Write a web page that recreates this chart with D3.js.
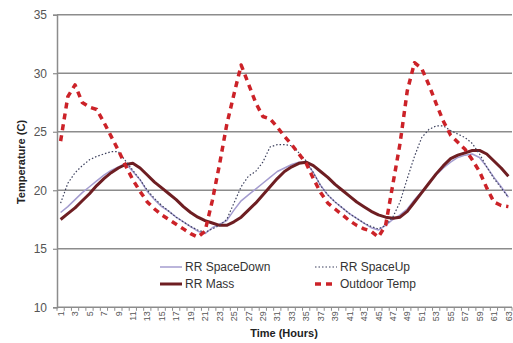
<!DOCTYPE html>
<html>
<head>
<meta charset="utf-8">
<script src="https://cdn.jsdelivr.net/npm/d3@7"></script>
<style>
  html, body { margin: 0; padding: 0; background: #fff; }
  svg { display: block; font-family: "Liberation Sans", Arial, sans-serif; }
</style>
</head>
<body>
<svg id="chart" width="513" height="343"></svg>
<script>
// ---- data ----
const hours = d3.range(1, 64);
const yTicks = [10, 15, 20, 25, 30, 35];
const seriesNames = ["RR SpaceDown", "RR SpaceUp", "RR Mass", "Outdoor Temp"];

const spaceDown = [18.1, 18.6, 19.2, 19.8, 20.3, 20.8, 21.3, 21.7, 22.0, 22.3,
  21.6, 20.9, 19.9, 19.2, 18.6, 18.2, 17.7, 17.3, 16.9, 16.5,
  16.3, 16.8, 17.1, 17.4, 18.3, 19.1, 19.6, 20.1, 20.6, 21.1,
  21.6, 21.9, 22.2, 22.4, 22.4, 21.5, 20.4, 19.6, 19.0, 18.5,
  18.0, 17.6, 17.2, 16.8, 16.6, 17.0, 17.5, 17.9, 18.4, 19.2,
  19.9, 20.6, 21.3, 21.9, 22.4, 22.8, 23.0, 23.1, 22.8, 22.0,
  21.1, 20.3, 19.4];

const spaceUp = [18.9, 20.6, 21.5, 22.1, 22.6, 22.9, 23.1, 23.3, 23.3, 22.5,
  21.7, 20.9, 20.0, 19.3, 18.7, 18.2, 17.7, 17.3, 16.9, 16.6,
  16.4, 16.7, 17.0, 17.5, 18.9, 20.3, 21.2, 21.6, 22.4, 23.7,
  23.9, 23.9, 23.8, 23.2, 22.5, 21.5, 20.4, 19.6, 19.0, 18.5,
  18.0, 17.6, 17.2, 16.9, 16.7, 17.0, 17.7, 19.0, 21.0, 22.9,
  24.5, 25.2, 25.5, 25.5, 25.1, 24.8, 24.5, 24.0, 23.1, 22.0,
  21.0, 20.2, 19.4];

const mass = [17.5, 18.0, 18.5, 19.1, 19.7, 20.4, 21.0, 21.5, 21.9, 22.2,
  22.3, 21.9, 21.3, 20.7, 20.2, 19.7, 19.2, 18.6, 18.1, 17.7,
  17.4, 17.2, 17.0, 17.0, 17.3, 17.7, 18.3, 18.9, 19.6, 20.3,
  21.0, 21.6, 22.0, 22.3, 22.4, 22.1, 21.6, 21.1, 20.5, 20.0,
  19.5, 19.0, 18.6, 18.2, 17.9, 17.7, 17.6, 17.7, 18.2, 19.0,
  19.8, 20.6, 21.4, 22.1, 22.7, 23.0, 23.2, 23.4, 23.4, 23.1,
  22.5, 21.9, 21.2];

const outdoor = [24.2, 28.0, 29.0, 27.5, 27.1, 26.9, 25.8, 24.6, 23.4, 22.1,
  20.9, 19.9, 19.0, 18.4, 17.9, 17.5, 17.1, 16.7, 16.3, 16.0,
  16.5, 19.1, 22.2, 25.6, 28.2, 30.7, 29.1, 27.5, 26.3, 26.1,
  25.4, 24.6, 23.9, 23.1, 22.3, 21.0, 19.8, 18.9, 18.4, 17.9,
  17.4, 17.0, 16.7, 16.5, 16.0, 17.0, 20.5, 24.0, 28.5, 30.9,
  30.4, 29.0, 27.4, 25.9, 24.7, 24.1, 23.5, 22.6, 21.6, 20.2,
  19.0, 18.7, 18.6];

// ---- layout ----
const svg = d3.select("#chart");
const plotLeft = 57, plotRight = 512, plotTop = 14.7, plotBottom = 307.3;

const x = d3.scaleBand().domain(hours).range([plotLeft, plotRight]).padding(0);
const y = d3.scaleLinear().domain([10, 35]).range([plotBottom, plotTop]);
const xc = h => x(h) + x.bandwidth() / 2;

// gridlines
svg.append("g").selectAll("line").data(yTicks.filter(t => t > 10)).join("line")
  .attr("x1", plotLeft).attr("x2", plotRight)
  .attr("y1", d => y(d)).attr("y2", d => y(d))
  .attr("stroke", "#8c8c8c").attr("stroke-width", 1.5);

// y axis
const yAxis = d3.axisLeft(y).tickValues(yTicks).tickSize(4).tickPadding(6);
const gy = svg.append("g").attr("transform", `translate(${plotLeft},0)`).call(yAxis);
gy.select(".domain").attr("stroke", "#8c8c8c").attr("stroke-width", 1.5);
gy.selectAll(".tick line").attr("stroke", "#8c8c8c").attr("stroke-width", 1.2);
gy.selectAll(".tick text").attr("fill", "#555").style("font-size", "12px")
  .style("font-family", "Liberation Sans, Arial, sans-serif");

// x axis
svg.append("line").attr("x1", plotLeft).attr("x2", plotRight)
  .attr("y1", plotBottom).attr("y2", plotBottom)
  .attr("stroke", "#8c8c8c").attr("stroke-width", 1.5);
const boundaries = hours.map(h => x(h)).concat([plotRight]);
svg.append("g").selectAll("line").data(boundaries).join("line")
  .attr("x1", d => d).attr("x2", d => d)
  .attr("y1", plotBottom).attr("y2", plotBottom + 3.5)
  .attr("stroke", "#8c8c8c").attr("stroke-width", 1);
svg.append("g").selectAll("text").data(hours.filter(h => h % 2 === 1)).join("text")
  .attr("transform", d => `translate(${xc(d)},${plotBottom + 4}) rotate(-90)`)
  .attr("dy", "0.35em")
  .attr("text-anchor", "end")
  .attr("fill", "#555")
  .style("font-size", "9px")
  .text(d => d);

// axis titles
svg.append("text")
  .attr("x", 284).attr("y", 337)
  .attr("text-anchor", "middle")
  .attr("font-weight", "bold")
  .attr("fill", "#222")
  .style("font-size", "11px")
  .text("Time (Hours)");
svg.append("text")
  .attr("transform", "translate(25,162) rotate(-90)")
  .attr("text-anchor", "middle")
  .attr("font-weight", "bold")
  .attr("fill", "#222")
  .style("font-size", "11px")
  .text("Temperature (C)");

// series
const styles = {
  "RR SpaceDown": { data: spaceDown, color: "#a49ccf", width: 1.5, dash: null },
  "RR SpaceUp": { data: spaceUp, color: "#3b3f5c", width: 1.2, dash: "1.5,2" },
  "RR Mass": { data: mass, color: "#6e1e22", width: 3, dash: null },
  "Outdoor Temp": { data: outdoor, color: "#cc2228", width: 3.5, dash: "6,5" }
};
const line = d3.line().x((d, i) => xc(hours[i])).y(d => y(d));
const drawOrder = ["RR SpaceDown", "RR Mass", "RR SpaceUp", "Outdoor Temp"];
drawOrder.forEach(name => {
  const s = styles[name];
  svg.append("path").datum(s.data)
    .attr("d", line)
    .attr("fill", "none")
    .attr("stroke", s.color)
    .attr("stroke-width", s.width)
    .attr("stroke-dasharray", s.dash)
    .attr("stroke-linejoin", "round");
});

// legend
const legendPos = {
  "RR SpaceDown": [160, 267],
  "RR SpaceUp": [315, 267],
  "RR Mass": [160, 284],
  "Outdoor Temp": [315, 284]
};
seriesNames.forEach(name => {
  const s = styles[name];
  const [lx, ly] = legendPos[name];
  svg.append("line")
    .attr("x1", lx).attr("x2", lx + 22)
    .attr("y1", ly).attr("y2", ly)
    .attr("stroke", s.color)
    .attr("stroke-width", s.width)
    .attr("stroke-dasharray", s.dash);
  svg.append("text")
    .attr("x", lx + 25).attr("y", ly)
    .attr("dy", "0.35em")
    .attr("fill", "#333")
    .style("font-size", "12px")
    .text(name);
});
</script>
</body>
</html>
